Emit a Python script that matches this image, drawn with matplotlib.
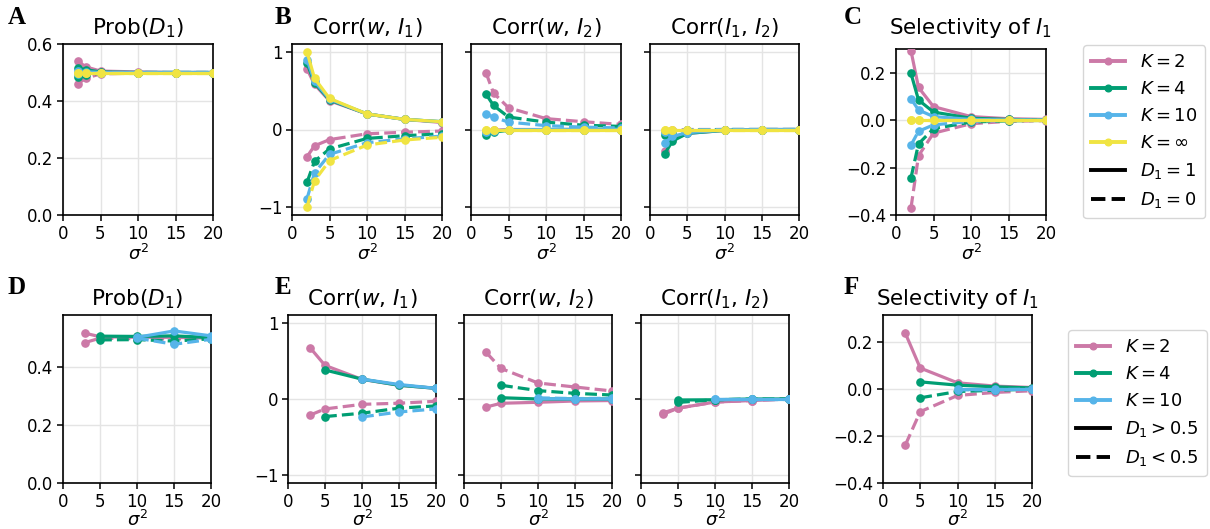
import matplotlib
matplotlib.use('Agg')
import matplotlib.pyplot as plt
import matplotlib.ticker as mticker
from matplotlib.lines import Line2D

# ---------------- data ----------------
sigma2_top = [2, 3, 5, 10, 15, 20]
K_top = ['2', '4', '10', 'inf']
K_top_labels = ['$K=2$', '$K=4$', '$K=10$', r'$K=\infty$']

# Panel A: Prob(D1)  (solid: D1=1, dashed: D1=0)
probA_solid = {'2': [0.54, 0.52, 0.505, 0.502, 0.5, 0.5],
               '4': [0.515, 0.51, 0.502, 0.5, 0.5, 0.5],
               '10': [0.505, 0.503, 0.5, 0.5, 0.5, 0.5],
               'inf': [0.5, 0.5, 0.5, 0.5, 0.5, 0.5]}
probA_dashed = {'2': [0.46, 0.48, 0.495, 0.498, 0.5, 0.5],
                '4': [0.485, 0.49, 0.498, 0.5, 0.5, 0.5],
                '10': [0.495, 0.497, 0.5, 0.5, 0.5, 0.5],
                'inf': [0.5, 0.5, 0.5, 0.5, 0.5, 0.5]}

# Panel B1: Corr(w, I1)
corrwI1_solid = {'2': [0.78, 0.58, 0.37, 0.2, 0.13, 0.09],
                 '4': [0.85, 0.6, 0.38, 0.2, 0.13, 0.1],
                 '10': [0.9, 0.62, 0.39, 0.2, 0.13, 0.1],
                 'inf': [1.0, 0.66, 0.4, 0.2, 0.13, 0.1]}
corrwI1_dashed = {'2': [-0.35, -0.21, -0.13, -0.055, -0.035, -0.02],
                  '4': [-0.68, -0.41, -0.25, -0.115, -0.08, -0.055],
                  '10': [-0.89, -0.56, -0.32, -0.17, -0.12, -0.085],
                  'inf': [-1.0, -0.66, -0.4, -0.2, -0.135, -0.1]}

# Panel B2: Corr(w, I2)
corrwI2_solid = {'2': [-0.02, -0.01, 0.0, 0.0, 0.0, 0.0],
                 '4': [-0.065, -0.035, -0.01, 0.0, 0.0, 0.0],
                 '10': [-0.035, -0.02, -0.005, 0.0, 0.0, 0.0],
                 'inf': [0.0, 0.0, 0.0, 0.0, 0.0, 0.0]}
corrwI2_dashed = {'2': [0.73, 0.47, 0.28, 0.14, 0.1, 0.065],
                  '4': [0.455, 0.31, 0.16, 0.095, 0.055, 0.04],
                  '10': [0.2, 0.16, 0.095, 0.05, 0.03, 0.02],
                  'inf': [0.0, 0.0, 0.0, 0.0, 0.0, 0.0]}

# Panel B3: Corr(I1, I2)
corrI1I2_solid = {'2': [-0.28, -0.13, -0.05, -0.012, 0.0, 0.0],
                  '4': [-0.31, -0.15, -0.05, -0.012, -0.004, 0.0],
                  '10': [-0.17, -0.09, -0.04, -0.01, 0.0, 0.0],
                  'inf': [0.0, 0.0, 0.0, 0.0, 0.0, 0.0]}
corrI1I2_dashed = {'2': [-0.02, -0.01, 0.0, 0.0, 0.0, 0.0],
                   '4': [-0.075, -0.03, -0.01, 0.0, 0.0, 0.0],
                   '10': [-0.035, -0.02, -0.005, 0.0, 0.0, 0.0],
                   'inf': [0.0, 0.0, 0.0, 0.0, 0.0, 0.0]}

# Panel C: Selectivity of I1
selC_solid = {'2': [0.292, 0.138, 0.057, 0.015, 0.006, 0.003],
              '4': [0.197, 0.085, 0.034, 0.008, 0.003, 0.001],
              '10': [0.09, 0.043, 0.015, 0.003, 0.001, 0.0],
              'inf': [0.0, 0.0, 0.0, 0.0, 0.0, 0.0]}
selC_dashed = {'2': [-0.37, -0.15, -0.055, -0.015, -0.005, -0.002],
               '4': [-0.243, -0.1, -0.036, -0.008, -0.003, -0.001],
               '10': [-0.105, -0.047, -0.02, -0.005, -0.001, 0.0],
               'inf': [0.0, 0.0, 0.0, 0.0, 0.0, 0.0]}

# bottom row
sigma2_bottom = {'2': [3, 5, 10, 15, 20], '4': [5, 10, 15, 20], '10': [10, 15, 20]}
K_bottom = ['2', '4', '10']
K_bottom_labels = ['$K=2$', '$K=4$', '$K=10$']

probD_solid = {'2': [0.517, 0.505, 0.503, 0.503, 0.5],
               '4': [0.507, 0.506, 0.508, 0.502],
               '10': [0.503, 0.525, 0.508]}
probD_dashed = {'2': [0.485, 0.5, 0.498, 0.497, 0.5],
                '4': [0.494, 0.495, 0.49, 0.498],
                '10': [0.5, 0.479, 0.496]}

corrwI1_E_solid = {'2': [0.67, 0.44, 0.257, 0.18, 0.14],
                   '4': [0.38, 0.26, 0.18, 0.14],
                   '10': [0.26, 0.19, 0.14]}
corrwI1_E_dashed = {'2': [-0.21, -0.13, -0.07, -0.055, -0.03],
                    '4': [-0.23, -0.186, -0.12, -0.09],
                    '10': [-0.235, -0.17, -0.13]}

corrwI2_E_solid = {'2': [-0.105, -0.056, -0.043, -0.026, -0.02],
                   '4': [0.017, 0.0, 0.0, 0.0],
                   '10': [0.005, 0.0, 0.0]}
corrwI2_E_dashed = {'2': [0.61, 0.4, 0.21, 0.157, 0.105],
                    '4': [0.18, 0.11, 0.074, 0.052],
                    '10': [0.015, 0.005, 0.01]}

corrI1I2_E_solid = {'2': [-0.18, -0.12, -0.04, -0.02, 0.0],
                    '4': [-0.013, -0.01, 0.0, 0.0],
                    '10': [0.0, 0.0, 0.0]}
corrI1I2_E_dashed = {'2': [-0.2, -0.12, -0.04, -0.02, 0.0],
                     '4': [-0.045, -0.01, 0.0, 0.0],
                     '10': [0.0, 0.0, 0.0]}

selF_solid = {'2': [0.238, 0.09, 0.027, 0.013, 0.007],
              '4': [0.031, 0.017, 0.01, 0.005],
              '10': [0.0, 0.0, 0.0]}
selF_dashed = {'2': [-0.238, -0.096, -0.027, -0.014, -0.007],
               '4': [-0.037, -0.01, -0.005, 0.0],
               '10': [-0.003, -0.002, 0.0]}

colors = {'2': '#CC79A7', '4': '#009E73', '10': '#56B4E9', 'inf': '#F0E442'}

# ---------------- figure ----------------
W, H = 1210, 529
fig = plt.figure(figsize=(W / 100, H / 100), dpi=100)

TICK_FS = 12
TITLE_FS = 15.5
LW = 2.3
MS = 5.2


def ax_px(l, r, t, b):
    return fig.add_axes([l / W, 1 - b / H, (r - l) / W, (b - t) / H])


def one_decimal(v, pos):
    return ('%.1f' % v).replace('-', '\u2212')


def style(ax, ylim, yticks, show_ylabels=True, lpad=0.5):
    ax.set_xlim(0, 20)
    ax.set_xticks([0, 5, 10, 15, 20])
    ax.set_ylim(*ylim)
    ax.set_yticks(yticks)
    if not show_ylabels:
        ax.set_yticklabels([])
    ax.grid(True, color='#e4e4e4', lw=1.0)
    ax.set_axisbelow(True)
    ax.tick_params(labelsize=TICK_FS, length=4, width=1.1, pad=3)
    for s in ax.spines.values():
        s.set_linewidth(1.2)
    ax.set_xlabel(r'$\sigma^2$', fontsize=13, labelpad=lpad)


def draw(ax, keys, xs, solid, dashed):
    for k in keys:
        x = xs[k] if isinstance(xs, dict) else xs
        ax.plot(x, solid[k], '-', color=colors[k], lw=LW, marker='o', ms=MS, zorder=3)
        ax.plot(x, dashed[k], '--', color=colors[k], lw=LW, marker='o', ms=MS, zorder=3)


def panel_letter(x, y, s):
    fig.text(x / W, 1 - y / H, s, fontsize=18, fontweight='bold',
             family='Liberation Serif', va='center', ha='left')


top_boxes = [(63, 213, 44, 215), (292, 442, 44, 215), (471, 621, 44, 215),
             (650, 799, 44, 215), (896, 1046, 49, 215)]
bot_boxes = [(63, 211, 315, 483), (288, 436, 315, 483), (464, 612, 315, 483),
             (641, 789, 315, 483), (883, 1032, 315, 483)]

titles = ['Prob($D_1$)', 'Corr($w$, $I_1$)', 'Corr($w$, $I_2$)',
          'Corr($I_1$, $I_2$)', 'Selectivity of $I_1$']

top_data = [(probA_solid, probA_dashed), (corrwI1_solid, corrwI1_dashed),
            (corrwI2_solid, corrwI2_dashed), (corrI1I2_solid, corrI1I2_dashed),
            (selC_solid, selC_dashed)]
bot_data = [(probD_solid, probD_dashed), (corrwI1_E_solid, corrwI1_E_dashed),
            (corrwI2_E_solid, corrwI2_E_dashed), (corrI1I2_E_solid, corrI1I2_E_dashed),
            (selF_solid, selF_dashed)]

top_ylims = [(0, 0.6), (-1.1, 1.1), (-1.1, 1.1), (-1.1, 1.1), (-0.4, 0.3)]
bot_ylims = [(0, 0.58), (-1.1, 1.1), (-1.1, 1.1), (-1.1, 1.1), (-0.4, 0.316)]
top_yticks = [[0, 0.2, 0.4, 0.6], [-1, 0, 1], [-1, 0, 1], [-1, 0, 1], [-0.4, -0.2, 0.0, 0.2]]
bot_yticks = [[0, 0.2, 0.4], [-1, 0, 1], [-1, 0, 1], [-1, 0, 1], [-0.4, -0.2, 0.0, 0.2]]
show_lab = [True, True, False, False, True]

for i in range(5):
    ax = ax_px(*top_boxes[i])
    draw(ax, K_top, sigma2_top, *top_data[i])
    style(ax, top_ylims[i], top_yticks[i], show_lab[i])
    if i in (0, 4):
        ax.yaxis.set_major_formatter(mticker.FuncFormatter(one_decimal))
    ax.set_title(titles[i], fontsize=TITLE_FS, pad=7 + (3.6 if i == 4 else 0))

    ax = ax_px(*bot_boxes[i])
    draw(ax, K_bottom, sigma2_bottom, *bot_data[i])
    style(ax, bot_ylims[i], bot_yticks[i], show_lab[i], lpad=-0.5)
    if i in (0, 4):
        ax.yaxis.set_major_formatter(mticker.FuncFormatter(one_decimal))
    ax.set_title(titles[i], fontsize=TITLE_FS, pad=7)

panel_letter(8, 18, 'A')
panel_letter(275, 18, 'B')
panel_letter(844, 18, 'C')
panel_letter(8, 288, 'D')
panel_letter(275, 288, 'E')
panel_letter(844, 288, 'F')


def make_handles(keys, labels, dlabels):
    hs = [Line2D([], [], color=colors[k], lw=LW + 0.5, marker='o', ms=4.8, label=lab)
          for k, lab in zip(keys, labels)]
    hs.append(Line2D([], [], color='black', lw=LW + 0.5, ls='-', label=dlabels[0]))
    hs.append(Line2D([], [], color='black', lw=LW + 0.5, ls='--', label=dlabels[1]))
    return hs


leg_kw = dict(loc='upper left', fontsize=13, handlelength=1.9, frameon=True,
              borderpad=0.45, labelspacing=0.5, handletextpad=0.8, borderaxespad=0,
              edgecolor='#cccccc')
leg1 = fig.legend(handles=make_handles(K_top, K_top_labels, ['$D_1=1$', '$D_1=0$']),
                  bbox_to_anchor=(1083 / W, 1 - 45 / H), **leg_kw)
leg2 = fig.legend(handles=make_handles(K_bottom, K_bottom_labels, ['$D_1>0.5$', '$D_1<0.5$']),
                  bbox_to_anchor=(1068 / W, 1 - 330 / H), **leg_kw)

fig.savefig('out.png', dpi=100)
